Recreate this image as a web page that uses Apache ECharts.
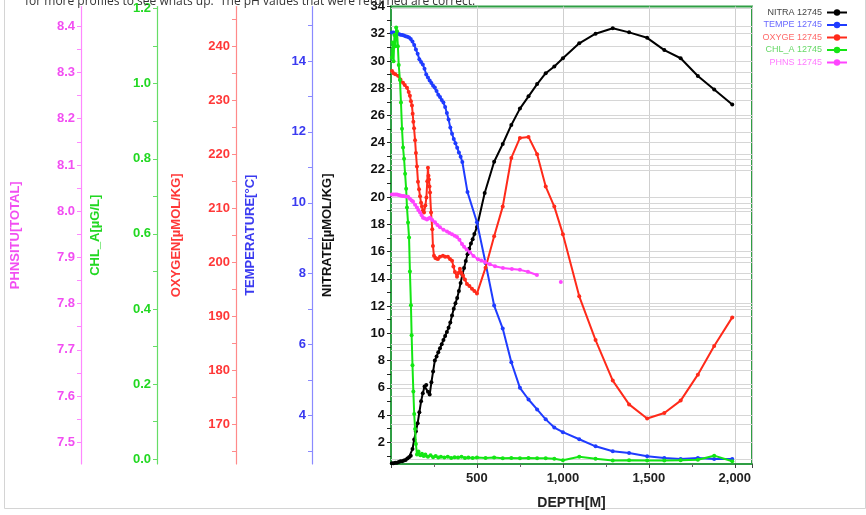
<!DOCTYPE html>
<html>
<head>
<meta charset="utf-8">
<script src="https://cdn.jsdelivr.net/npm/echarts@6/dist/echarts.min.js"></script>
<style>
html,body{margin:0;padding:0;background:#fff;}
#chart{width:866px;height:515px;}
</style>
</head>
<body>
<div id="chart"></div>
<script>
// ---- data: [depth (m), value] ----
const nitrate = [[5,0.45],[15,0.45],[25,0.5],[35,0.5],[45,0.55],[55,0.6],[65,0.6],[75,0.65],[85,0.7],[95,0.8],[105,0.9],[115,1.0],[125,1.5],[135,2.2],[145,2.8],[155,3.4],[165,4.2],[175,5.0],[185,5.6],[195,6.1],[205,6.2],[215,5.7],[225,5.5],[235,6.4],[245,7.2],[255,8.0],[265,8.3],[275,8.6],[285,8.9],[295,9.2],[305,9.5],[315,9.8],[325,10.1],[335,10.4],[345,10.8],[355,11.3],[365,11.8],[375,12.2],[385,12.6],[395,13.1],[405,13.7],[415,14.3],[425,14.8],[435,15.3],[445,15.8],[455,16.2],[465,16.6],[475,16.9],[485,17.3],[500,17.8],[545,20.3],[600,22.6],[650,23.9],[700,25.3],[750,26.5],[800,27.4],[850,28.3],[900,29.1],[950,29.6],[1000,30.2],[1095,31.3],[1190,32.0],[1290,32.4],[1385,32.1],[1490,31.7],[1590,30.8],[1685,30.2],[1785,28.9],[1880,27.9],[1985,26.8]];
const temperature = [[5,14.8],[15,14.8],[25,14.78],[35,14.77],[45,14.76],[55,14.74],[65,14.73],[75,14.72],[85,14.7],[95,14.68],[105,14.66],[115,14.62],[125,14.55],[135,14.45],[145,14.32],[155,14.2],[165,14.05],[175,13.97],[185,13.9],[195,13.78],[205,13.62],[215,13.53],[225,13.45],[235,13.38],[245,13.3],[255,13.25],[265,13.15],[275,13.05],[285,12.98],[295,12.9],[305,12.83],[315,12.7],[325,12.53],[335,12.35],[345,12.12],[355,11.95],[365,11.8],[375,11.68],[385,11.55],[395,11.42],[405,11.3],[415,11.15],[445,10.3],[500,9.45],[550,8.3],[600,7.1],[650,6.45],[700,5.5],[750,4.78],[800,4.45],[850,4.17],[900,3.89],[950,3.66],[1000,3.53],[1095,3.33],[1190,3.13],[1290,2.99],[1385,2.94],[1490,2.85],[1590,2.8],[1685,2.77],[1785,2.8],[1880,2.77],[1985,2.77]];
const oxygen = [[6,235.4],[15,235.0],[25,234.8],[41,234.5],[55,233.8],[70,233.2],[80,232.8],[93,232.3],[103,231.5],[110,230.8],[116,229.8],[122,229.0],[126,227.5],[130,226.0],[134,224.8],[140,222.6],[145,220.2],[151,217.7],[157,214.9],[163,213.5],[169,212.2],[175,211.0],[180,210.3],[186,209.6],[192,209.2],[200,210.5],[206,212.0],[211,215.0],[215,217.5],[218,216.0],[221,215.3],[224,214.0],[227,212.9],[233,209.2],[240,206.1],[244,203.0],[250,201.2],[258,200.8],[265,200.7],[273,200.6],[285,201.0],[302,201.2],[315,201.0],[331,201.0],[343,200.6],[355,200.3],[363,199.2],[372,198.2],[384,197.3],[392,198.0],[401,198.8],[410,198.0],[419,197.5],[430,196.8],[442,196.0],[456,195.6],[471,195.1],[485,194.7],[500,194.2],[550,199.0],[600,204.8],[650,210.3],[700,219.3],[750,223.0],[800,223.2],[850,220.0],[900,214.0],[950,210.3],[1000,205.2],[1095,193.7],[1190,185.6],[1290,178.1],[1385,173.7],[1490,171.1],[1590,172.1],[1685,174.4],[1785,179.2],[1880,184.5],[1985,189.8]];
const chlA = [[5,1.07],[10,1.11],[15,1.06],[20,1.13],[25,1.10],[30,1.15],[35,1.14],[40,1.10],[45,1.05],[52,1.01],[58,0.95],[64,0.88],[70,0.83],[76,0.80],[82,0.76],[88,0.72],[93,0.67],[99,0.63],[105,0.59],[110,0.50],[116,0.41],[120,0.33],[125,0.25],[130,0.18],[135,0.12],[140,0.08],[145,0.04],[151,0.012],[160,0.02],[170,0.01],[180,0.014],[190,0.008],[200,0.012],[215,0.006],[230,0.01],[245,0.005],[260,0.008],[275,0.004],[290,0.006],[310,0.004],[330,0.006],[350,0.003],[370,0.005],[390,0.004],[410,0.006],[430,0.003],[450,0.004],[475,0.003],[500,0.004],[550,0.003],[600,0.004],[650,0.002],[700,0.003],[750,0.002],[800,0.003],[850,0.002],[900,0.002],[950,0.001],[1000,-0.003],[1095,0.006],[1190,0.001],[1290,-0.004],[1385,-0.003],[1490,-0.004],[1590,-0.004],[1685,-0.003],[1785,-0.002],[1880,0.009],[1985,-0.006]];
const phInsitu = [[5,8.036],[15,8.036],[25,8.036],[35,8.036],[45,8.035],[55,8.034],[65,8.033],[75,8.033],[85,8.032],[99,8.031],[110,8.027],[120,8.023],[128,8.021],[140,8.014],[151,8.008],[160,8.002],[169,7.997],[178,7.991],[186,7.986],[197,7.984],[209,7.982],[218,7.984],[227,7.986],[240,7.981],[256,7.976],[270,7.970],[285,7.965],[305,7.960],[326,7.956],[340,7.953],[355,7.950],[370,7.947],[384,7.944],[398,7.938],[413,7.929],[425,7.923],[440,7.917],[459,7.911],[480,7.903],[506,7.896],[525,7.893],[547,7.890],[575,7.885],[605,7.881],[651,7.877],[703,7.875],[750,7.873],[797,7.869],[849,7.862],[920,'-'],[988,7.847]];

const seriesNames = ['NITRA 12745','TEMPE 12745','OXYGE 12745','CHL_A 12745','PHNS 12745'];
const axisNames = ['NITRATE[µMOL/KG]','TEMPERATURE[°C]','OXYGEN[µMOL/KG]','CHL_A[µG/L]','PHNSITU[TOTAL]'];
const nitrateLabels = [2,4,6,8,10,12,14,16,18,20,22,24,26,28,30,32,34];
const tempLabels = [4,6,8,10,12,14];
const oxyLabels = [170,180,190,200,210,220,230,240];
const chlLabels = [0.0,0.2,0.4,0.6,0.8,1.0,1.2];
const phLabels = [7.5,7.6,7.7,7.8,7.9,8.0,8.1,8.2,8.3,8.4];
const depthTickStep = 500;
const topNote = 'for more profiles to see whats up.  The pH values that were returned are correct.';

// ---- styling ----
const colors = ['#000000','#1f3cff','#ff2a1a','#14e614','#ff44ff'];
const labelColors = ['#111111','#3a3af0','#ff3838','#22d822','#f24ef2'];
const lineColors = ['#2f9e44','#8a8aff','#ff8a8a','#66dd66','#ff88ff'];
const legendColors = ['#444444','#6a6aff','#ff6a6a','#66d866','#ff7aff'];
const offsets = [0,79,155,234,310];
const ranges = [[0.4,34],[2.631,15.536],[162.67,247.33],[-0.0132,1.2058],[7.4529,8.4429]];
const labelSets = [nitrateLabels,tempLabels,oxyLabels,chlLabels,phLabels];
const halfSteps = [1,1,5,0.1,0.05];
const decimals = [0,0,0,1,1];
const nameGaps = [57,55,53,55,59];
const datasets = [nitrate,temperature,oxygen,chlA,phInsitu];

function tickVals(i){
  const r = ranges[i], s = halfSteps[i], out = [];
  const start = Math.ceil(r[0]/s - 1e-9);
  for (let k = start; k*s <= r[1] + 1e-9; k++) out.push(+(k*s).toFixed(4));
  return out;
}

const FONT = 'Liberation Sans, Arial, sans-serif';

const yAxes = ranges.map((r,i)=>({
  type:'value', position:'left', offset:offsets[i], min:r[0], max:r[1],
  name:axisNames[i], nameLocation:'middle', nameGap:nameGaps[i],
  nameTextStyle:{color:labelColors[i], fontWeight:'bold', fontSize:13, fontFamily:FONT},
  axisLine:{show:true, onZero:false, lineStyle:{color:lineColors[i], width:i===0?2:1.2}},
  axisTick:{show:true, length:4, customValues:tickVals(i), lineStyle:{color:i===0?'#222':lineColors[i]}},
  axisLabel:{customValues:labelSets[i], color:labelColors[i], fontWeight:'bold', fontSize:13, fontFamily:FONT, margin:6,
    formatter:v=>Number(v).toFixed(decimals[i])},
  splitLine:{show:false}
}));

const series = datasets.map((d,i)=>({
  name:seriesNames[i], type:'line', yAxisIndex:i, data:d,
  symbol:'circle', symbolSize:4, showSymbol:true,
  lineStyle:{color:colors[i], width:2}, itemStyle:{color:colors[i]},
  z:3+i, animation:false
}));

// gridlines drawn at each axis's labelled values
labelSets.forEach((ls,i)=>{
  series.push({
    type:'line', yAxisIndex:i, data:[], silent:true, animation:false,
    markLine:{silent:true, symbol:'none', z:1, animation:false, label:{show:false},
      lineStyle:{color:'#d6d6d6', width:1, type:'solid'},
      data:ls.filter(v=>v>ranges[i][0]+1e-6 && v<ranges[i][1]-1e-6).map(v=>({yAxis:v}))}
  });
});

const chart = echarts.init(document.getElementById('chart'), null, {renderer:'canvas'});
chart.setOption({
  animation:false,
  backgroundColor:'#ffffff',
  grid:{left:391, right:114, top:5, bottom:48, show:true, borderColor:'#2f9e44', borderWidth:2, backgroundColor:'transparent'},
  xAxis:{type:'value', min:0, max:2100, interval:depthTickStep,
    name:'DEPTH[M]', nameLocation:'middle', nameGap:32,
    nameTextStyle:{color:'#222', fontWeight:'bold', fontSize:14, fontFamily:FONT},
    axisLine:{show:true, onZero:false, lineStyle:{color:'#2f9e44', width:2}},
    axisTick:{show:true, length:4, lineStyle:{color:'#444'}},
    minorTick:{show:true, splitNumber:2, length:3, lineStyle:{color:'#666'}},
    axisLabel:{color:'#222', fontWeight:'bold', fontSize:13, fontFamily:FONT, margin:8, showMinLabel:false, showMaxLabel:false,
      formatter:v=>v.toLocaleString('en-US')},
    splitLine:{show:true, lineStyle:{color:'#cfcfcf', width:1}}
  },
  yAxis:yAxes,
  legend:{orient:'vertical', right:13, top:3, align:'right', itemWidth:20, itemHeight:8, itemGap:3.5,
    textStyle:{fontSize:9, fontFamily:FONT},
    data:seriesNames.map((n,i)=>({name:n, textStyle:{color:legendColors[i]}}))},
  graphic:[
    {type:'rect', left:2, top:-5, shape:{width:861, height:511}, style:{fill:'none', stroke:'#d4d4d4', lineWidth:1}, silent:true, z:-10},
    {type:'text', left:25, top:-4, style:{text:topNote, fill:'#333', font:'12px "Open Sans", sans-serif'}, z:10}
  ],
  series:series
});
</script>
</body>
</html>
